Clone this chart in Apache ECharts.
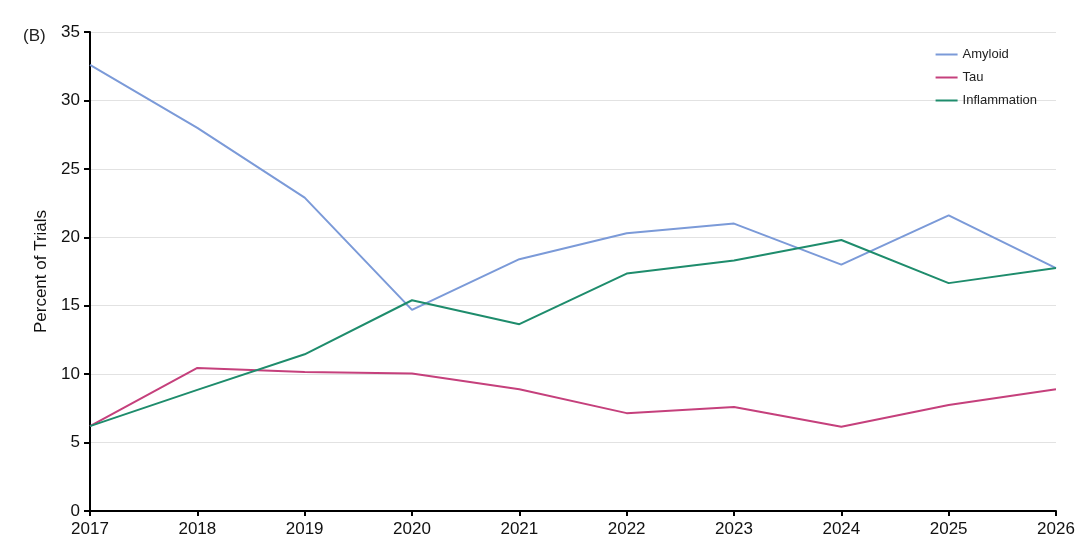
<!DOCTYPE html>
<html>
<head>
<meta charset="utf-8">
<script src="https://cdn.jsdelivr.net/npm/echarts@6/dist/echarts.min.js"></script>
<style>
  html, body { margin: 0; padding: 0; background: #fff; }
  #main { width: 1080px; height: 538px; }
</style>
</head>
<body>
<div id="main"></div>
<script>
// years on the x axis
const years = ['2017', '2018', '2019', '2020', '2021', '2022', '2023', '2024', '2025', '2026'];

// percent of trials per target
const amyloid = [32.6, 28.0, 22.9, 14.7, 18.4, 20.3, 21.0, 18.0, 21.6, 17.75];
const tau = [6.2, 10.45, 10.15, 10.05, 8.9, 7.15, 7.6, 6.15, 7.75, 8.9];
const inflammation = [6.2, 8.85, 11.45, 15.4, 13.65, 17.35, 18.3, 19.8, 16.65, 17.75];

const font = 'Liberation Sans, Arial, sans-serif';

const myChart = echarts.init(document.getElementById('main'));

const line = (name, data, color) => ({
  name,
  type: 'line',
  data,
  symbol: 'none',
  lineStyle: { color, width: 2 },
  itemStyle: { color },
});

myChart.setOption({
  animation: false,
  grid: { left: 90, right: 24, top: 32, bottom: 27 },
  title: {
    text: '(B)',
    left: 18,
    top: 23,
    textStyle: { fontFamily: font, fontSize: 17, fontWeight: 'normal', color: '#222' },
  },
  legend: {
    orient: 'vertical',
    right: 38,
    top: 43,
    itemWidth: 22,
    itemHeight: 2,
    itemGap: 10,
    icon: 'rect',
    textStyle: { fontFamily: font, fontSize: 13, color: '#222' },
    data: ['Amyloid', 'Tau', 'Inflammation'],
  },
  xAxis: {
    type: 'category',
    data: years,
    boundaryGap: false,
    axisLine: { lineStyle: { color: '#000', width: 2 } },
    axisTick: { alignWithLabel: true, length: 5, lineStyle: { color: '#000', width: 2 } },
    axisLabel: { fontFamily: font, fontSize: 17, color: '#111', margin: 10 },
  },
  yAxis: {
    type: 'value',
    min: 0,
    max: 35,
    interval: 5,
    name: 'Percent of Trials',
    nameLocation: 'middle',
    nameGap: 38,
    nameTextStyle: { fontFamily: font, fontSize: 17, color: '#111' },
    axisLine: { show: true, lineStyle: { color: '#000', width: 2 } },
    axisTick: { show: true, length: 6, lineStyle: { color: '#000', width: 2 } },
    axisLabel: { fontFamily: font, fontSize: 17, color: '#111', margin: 10 },
    splitLine: { lineStyle: { color: '#e2e2e2', width: 1 } },
  },
  series: [
    line('Amyloid', amyloid, '#7b9ad8'),
    line('Tau', tau, '#c5407c'),
    line('Inflammation', inflammation, '#1e8c6c'),
  ],
});
</script>
</body>
</html>
